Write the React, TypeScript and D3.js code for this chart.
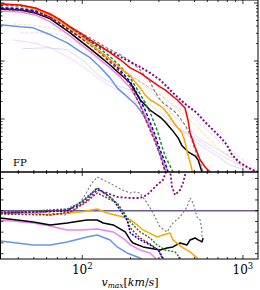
import * as d3 from "d3";

// ---- top panel: cumulative counts n(>vmax) ----
const redV = [31.0, 41.2, 51.1, 63.3, 73.0, 84.2, 97.2, 112, 129, 149, 172, 199, 229, 264, 305, 328, 389, 436, 455, 469, 503, 526, 541, 581, 624, 642];
const redN = [0.961, 0.924, 0.821, 0.648, 0.512, 0.388, 0.306, 0.232, 0.183, 0.139, 0.106, 0.076, 0.0624, 0.0473, 0.0358, 0.0318, 0.0215, 0.0155, 0.00962, 0.00576, 0.00331, 0.00241, 0.00198, 0.00149, 0.00122, 0.00104];

const orangeV = [31.0, 41.2, 51.1, 63.3, 73.0, 84.2, 97.2, 112, 129, 149, 172, 199, 213, 229, 246, 264, 292, 318, 342, 362, 389, 418, 436, 449, 469, 482, 496];
const orangeN = [0.961, 0.924, 0.789, 0.599, 0.473, 0.358, 0.272, 0.198, 0.145, 0.106, 0.076, 0.0554, 0.0437, 0.0345, 0.0261, 0.0215, 0.0183, 0.0155, 0.0122, 0.00962, 0.0073, 0.00576, 0.00404, 0.00272, 0.00182, 0.00132, 0.00104];

const greenV = [31.0, 41.2, 51.1, 63.3, 73.0, 84.2, 97.2, 112, 129, 149, 172, 199, 213, 229, 246, 264, 276, 292, 305, 318, 332, 352, 367, 378];
const greenN = [0.924, 0.888, 0.821, 0.623, 0.492, 0.373, 0.283, 0.215, 0.163, 0.119, 0.0822, 0.0512, 0.0373, 0.0272, 0.0191, 0.0132, 0.00962, 0.00649, 0.00437, 0.00294, 0.00215, 0.00155, 0.00122, 0.00104];

const blueV = [31.0, 41.2, 51.1, 63.3, 73.0, 84.2, 97.2, 112, 129, 149, 172, 199, 213, 229, 246, 264, 284, 297, 314, 328, 342, 352];
const blueN = [0.821, 0.789, 0.729, 0.576, 0.454, 0.345, 0.261, 0.198, 0.145, 0.106, 0.0702, 0.0437, 0.0318, 0.0215, 0.0143, 0.00889, 0.00532, 0.00358, 0.00241, 0.00176, 0.00122, 0.00104];

const brownV = [31.0, 41.2, 51.1, 63.3, 73.0, 84.2, 97.2, 112, 129, 149, 172, 199, 213, 229, 246, 264, 284, 305, 318, 328, 337];
const brownN = [0.821, 0.789, 0.701, 0.553, 0.437, 0.331, 0.251, 0.191, 0.139, 0.0962, 0.0649, 0.0388, 0.0261, 0.0176, 0.0104, 0.00649, 0.00404, 0.00241, 0.00162, 0.00122, 0.00104];

const purpleV = [31.0, 41.2, 51.1, 63.3, 73.0, 84.2, 97.2, 112, 129, 149, 172, 199, 229, 264, 305, 342, 378, 436, 518, 581, 624, 720, 795, 855, 958, 1059, 1187, 1240];
const purpleN = [0.789, 0.759, 0.701, 0.576, 0.473, 0.373, 0.283, 0.223, 0.176, 0.145, 0.119, 0.0962, 0.079, 0.0624, 0.0473, 0.0345, 0.0261, 0.0183, 0.0127, 0.00889, 0.0073, 0.00492, 0.00358, 0.00241, 0.00176, 0.00149, 0.00127, 0.00122];

const grayV = [31.0, 41.2, 51.1, 63.3, 73.0, 84.2, 97.2, 112, 129, 149, 172, 199, 229, 264, 284, 305, 318, 352, 378, 406, 436, 469, 503, 541, 565];
const grayN = [0.854, 0.821, 0.759, 0.623, 0.512, 0.388, 0.306, 0.251, 0.198, 0.157, 0.129, 0.1, 0.0702, 0.0437, 0.0294, 0.0215, 0.0191, 0.0155, 0.0132, 0.0104, 0.0079, 0.00532, 0.00294, 0.00182, 0.00122];

const blackV = [31.0, 41.2, 51.1, 63.3, 73.0, 84.2, 97.2, 112, 129, 149, 172, 199, 213, 229, 264, 305, 328, 362, 395, 418, 455, 503, 526, 541, 556];
const blackN = [0.789, 0.759, 0.674, 0.532, 0.404, 0.306, 0.223, 0.163, 0.119, 0.0853, 0.0597, 0.0418, 0.0304, 0.0215, 0.0143, 0.0108, 0.00889, 0.00649, 0.00473, 0.00345, 0.00272, 0.00232, 0.00198, 0.00155, 0.00122];

const violetV = [31.0, 41.2, 51.1, 63.3, 73.0, 84.2, 97.2, 112, 129, 149, 172, 199, 213, 229, 246, 264, 284, 297, 314, 328, 342];
const violetN = [0.729, 0.701, 0.623, 0.473, 0.358, 0.272, 0.198, 0.145, 0.106, 0.076, 0.0532, 0.0345, 0.0251, 0.0176, 0.0117, 0.0076, 0.00473, 0.00318, 0.00215, 0.00155, 0.00122];

const cornV = [31.0, 41.2, 49.6, 63.3, 80.7, 97.2, 112, 129, 149, 165, 185, 199, 213, 229, 246, 264, 284, 297, 314, 328, 337];
const cornN = [0.42, 0.388, 0.373, 0.283, 0.206, 0.145, 0.114, 0.079, 0.0512, 0.0345, 0.0261, 0.0215, 0.0183, 0.0143, 0.0104, 0.00702, 0.00437, 0.00294, 0.00198, 0.00132, 0.00104];

// faint low-resolution runs
const fOrangeV = [37.3, 47.5, 63.3, 78.4, 97.2, 129, 199, 305, 469, 720, 1105];
const fOrangeN = [0.437, 0.42, 0.373, 0.318, 0.232, 0.129, 0.0576, 0.0261, 0.00962, 0.00294, 0.00143];
const fVioletV = [41.2, 58.9, 73.0, 97.2, 129, 199, 305, 489, 624, 830, 1105, 1240];
const fVioletN = [0.306, 0.306, 0.283, 0.191, 0.119, 0.0576, 0.0261, 0.0104, 0.00576, 0.00294, 0.00162, 0.00132];
const fPinkV = [36.7, 49.6, 63.3, 80.7, 104, 129, 172, 229, 305, 469, 720, 1029, 1187];
const fPinkN = [0.232, 0.206, 0.169, 0.119, 0.076, 0.0473, 0.0294, 0.0176, 0.0104, 0.00532, 0.00241, 0.00143, 0.00122];
const fBlueV = [42.4, 60.6, 80.7, 104, 129, 160, 199, 264, 378, 541, 830, 1105];
const fBlueN = [0.163, 0.169, 0.157, 0.0962, 0.0532, 0.0388, 0.0318, 0.0176, 0.0079, 0.00358, 0.00162, 0.00122];
const fGrayV = [172, 229, 305, 362, 449, 541, 650, 830, 1000, 1240];
const fGrayN = [0.076, 0.0437, 0.0215, 0.0122, 0.0073, 0.0044, 0.0034, 0.0022, 0.00155, 0.00127];

// ---- bottom panel: ratios ----
const rGrayV = [31.0, 54.8, 78.4, 90.5, 104, 115, 124, 135, 156, 177, 199, 213, 229, 253, 276, 305, 337, 367, 406, 449, 469, 489, 518, 541, 556, 556];
const rGray = [0.976, 0.976, 0.92, 1.013, 1.292, 1.515, 1.627, 1.571, 1.478, 1.385, 1.329, 1.348, 1.329, 1.143, 0.957, 0.697, 0.604, 0.771, 0.883, 1.069, 1.236, 1.143, 0.883, 0.827, 0.641, 0.511];
const rPurpleV = [31.0, 49.6, 80.7, 97.2, 107, 124, 143, 165, 199, 229, 253, 292, 318, 332, 342, 352, 362, 378, 406, 424, 436, 449];
const rPurple = [0.957, 0.976, 1.013, 1.106, 1.199, 1.385, 1.329, 1.255, 1.236, 1.236, 1.292, 1.478, 1.571, 1.72, 1.832, 1.757, 1.441, 1.292, 1.385, 1.515, 1.664, 1.85];
const rGreenV = [31.0, 49.6, 80.7, 97.2, 107, 124, 149, 165, 180, 199, 229, 264, 292, 328, 378, 406, 418];
const rGreen = [0.976, 0.994, 1.032, 1.143, 1.255, 1.422, 1.255, 1.125, 0.976, 0.79, 0.604, 0.492, 0.362, 0.269, 0.232, 0.12, -0.01];
const rBlueV = [31.0, 49.6, 80.7, 107, 124, 139, 156, 172, 190, 199, 229, 264, 297, 318, 328];
const rBlue = [0.957, 0.976, 0.994, 1.236, 1.422, 1.311, 1.199, 1.013, 0.827, 0.585, 0.455, 0.362, 0.269, 0.12, -0.01];
const rBrownV = [31.0, 63.3, 84.2, 104, 124, 143, 165, 185, 199, 229, 264, 297, 314, 318];
const rBrown = [0.938, 0.92, 0.976, 1.143, 1.329, 1.236, 1.143, 0.92, 0.678, 0.492, 0.38, 0.269, 0.12, -0.01];
const rOrangeV = [31.0, 49.6, 63.3, 80.7, 97.2, 124, 143, 180, 199, 220, 239, 292, 318, 352, 367, 424, 469, 518, 533];
const rOrange = [0.957, 0.957, 0.92, 0.957, 0.976, 1.032, 0.957, 0.883, 0.827, 0.734, 0.641, 0.511, 0.548, 0.585, 0.455, 0.306, 0.232, 0.12, -0.01];
const rBlackV = [31.0, 49.6, 63.3, 80.7, 97.2, 107, 124, 135, 156, 185, 199, 207, 239, 305, 337, 367, 406, 449, 469, 503, 526, 556, 565];
const rBlack = [0.864, 0.79, 0.734, 0.771, 0.808, 0.827, 0.827, 0.771, 0.734, 0.604, 0.455, 0.399, 0.325, 0.269, 0.306, 0.325, 0.399, 0.362, 0.455, 0.492, 0.455, 0.418, 0.492];
const rVioletV = [31.0, 49.6, 63.3, 80.7, 97.2, 124, 156, 185, 199, 229, 264, 284, 292];
const rViolet = [0.827, 0.771, 0.715, 0.641, 0.641, 0.66, 0.604, 0.455, 0.362, 0.269, 0.213, 0.12, 0.046];
const rCornV = [31.0, 49.6, 63.3, 80.7, 107, 124, 149, 165, 190, 229, 246];
const rCorn = [0.436, 0.362, 0.362, 0.418, 0.511, 0.548, 0.455, 0.325, 0.213, 0.12, 0.027];

const xMajor = [100, 1000];
const xTickLabels = ["2", "3"];

type S = { v: number[]; y: number[]; c: string; w: number; d?: string; o?: number };

const topLines: S[] = [
  { v: fGrayV, y: fGrayN, c: "#a0a0a0", w: 1, o: 0.35 },
  { v: fBlueV, y: fBlueN, c: "#6495ed", w: 1, o: 0.3 },
  { v: fPinkV, y: fPinkN, c: "#ee82ee", w: 1, o: 0.35 },
  { v: fVioletV, y: fVioletN, c: "#ee82ee", w: 1, d: "3,2", o: 0.4 },
  { v: fOrangeV, y: fOrangeN, c: "#ffa500", w: 1, d: "3,2", o: 0.4 },
  { v: cornV, y: cornN, c: "#6495ed", w: 1.5 },
  { v: violetV, y: violetN, c: "#ee82ee", w: 1.5 },
  { v: blackV, y: blackN, c: "#000000", w: 1.5 },
  { v: grayV, y: grayN, c: "#808080", w: 1.2, d: "3,2" },
  { v: brownV, y: brownN, c: "#a52a2a", w: 1.5, d: "3,2" },
  { v: blueV, y: blueN, c: "#0000cd", w: 1.5, d: "3,2" },
  { v: greenV, y: greenN, c: "#228b22", w: 1.5, d: "3,2" },
  { v: purpleV, y: purpleN, c: "#8b008b", w: 2, d: "2,2" },
  { v: orangeV, y: orangeN, c: "#ffa500", w: 1.5 },
  { v: redV, y: redN, c: "#ff0000", w: 1.5 },
];

const botLines: S[] = [
  { v: rCornV, y: rCorn, c: "#6495ed", w: 1.5 },
  { v: rVioletV, y: rViolet, c: "#ee82ee", w: 1.5 },
  { v: rBlackV, y: rBlack, c: "#000000", w: 1.5 },
  { v: rOrangeV, y: rOrange, c: "#ffa500", w: 1.5 },
  { v: rGrayV, y: rGray, c: "#808080", w: 1.2, d: "2,2" },
  { v: rBrownV, y: rBrown, c: "#a52a2a", w: 1.5, d: "2,1.5" },
  { v: rBlueV, y: rBlue, c: "#0000cd", w: 1.5, d: "2,1.5" },
  { v: rGreenV, y: rGreen, c: "#228b22", w: 1.5, d: "2,1.5" },
  { v: rPurpleV, y: rPurple, c: "#8b008b", w: 1.8, d: "2,2" },
];

export default function App() {
  const L = 0.5, R = 258, T = 0, M = 172, B = 259;
  const x = d3.scaleLog().domain([31, 1241]).range([L, R]);
  const yT = d3.scaleLog().domain([0.00122, 1.127]).range([M, T]);
  const yB = d3.scaleLinear().domain([0.1, 1.72]).range([B, M]);
  const serif = "'DejaVu Serif', 'Liberation Serif', serif";

  const path = (s: S, y: (n: number) => number) =>
    d3.line<number>().x((_, i) => x(s.v[i])).y((n) => y(n))(s.y) ?? "";

  const xt = x.ticks();
  const yTt = yT.ticks();
  const yBt = d3.range(0.2, 1.61, 0.2);
  const isMajor = (t: number) => Math.abs(Math.log10(t) - Math.round(Math.log10(t))) < 1e-6;

  const xTicks = (y0: number, y1: number) =>
    xt.map((t, i) => {
      const len = isMajor(t) ? 4 : 2;
      return (
        <g key={i}>
          <line x1={x(t)} x2={x(t)} y1={y0} y2={y0 + len} stroke="#000" strokeWidth={0.8} />
          <line x1={x(t)} x2={x(t)} y1={y1} y2={y1 - len} stroke="#000" strokeWidth={0.8} />
        </g>
      );
    });

  return (
    <>
      <style>{"body{margin:0}"}</style>
      <svg width={260} height={290} style={{ display: "block", background: "#fff" }}>
        <defs>
          <clipPath id="cTop"><rect x={L} y={T} width={R - L} height={M - T} /></clipPath>
          <clipPath id="cBot"><rect x={L} y={M} width={R - L} height={B - M} /></clipPath>
        </defs>

        <g clipPath="url(#cTop)">
          {topLines.map((s, i) => (
            <path key={i} d={path(s, yT)} fill="none" stroke={s.c} strokeWidth={s.w}
              strokeDasharray={s.d} opacity={s.o ?? 1} strokeLinejoin="round" />
          ))}
        </g>
        <g clipPath="url(#cBot)">
          <line x1={L} x2={R} y1={yB(1)} y2={yB(1)} stroke="#6b5b9b" strokeWidth={1.5} />
          {botLines.map((s, i) => (
            <path key={i} d={path(s, yB)} fill="none" stroke={s.c} strokeWidth={s.w}
              strokeDasharray={s.d} opacity={s.o ?? 1} strokeLinejoin="round" />
          ))}
        </g>

        {/* ticks */}
        {xTicks(T, M)}
        {xTicks(M, B)}
        {yTt.map((t, i) => {
          const len = isMajor(t) ? 4 : 2;
          return (
            <g key={"yt" + i}>
              <line x1={L} x2={L + len} y1={yT(t)} y2={yT(t)} stroke="#000" strokeWidth={0.8} />
              <line x1={R} x2={R - len} y1={yT(t)} y2={yT(t)} stroke="#000" strokeWidth={0.8} />
            </g>
          );
        })}
        {yBt.map((t, i) => (
          <g key={"yb" + i}>
            <line x1={L} x2={L + 3} y1={yB(t)} y2={yB(t)} stroke="#000" strokeWidth={0.8} />
            <line x1={R} x2={R - 3} y1={yB(t)} y2={yB(t)} stroke="#000" strokeWidth={0.8} />
          </g>
        ))}

        {/* frames */}
        <rect x={L} y={T} width={R - L} height={M - T} fill="none" stroke="#000" strokeWidth={1} />
        <rect x={L} y={M} width={R - L} height={B - M} fill="none" stroke="#000" strokeWidth={1} />

        <text x={13} y={166} fontFamily={serif} fontSize={10}>FP</text>

        {xMajor.map((t, i) => (
          <text key={i} x={x(t)} y={274} fontFamily={serif} fontSize={12} textAnchor="middle">
            10<tspan dy={-5} fontSize={8.5}>{xTickLabels[i]}</tspan>
          </text>
        ))}
        <text x={130} y={286} fontFamily={serif} fontSize={11} textAnchor="middle">
          <tspan fontStyle="italic">v</tspan>
          <tspan fontStyle="italic" fontSize={7.5} dy={2}>max</tspan>
          <tspan dy={-2}>[</tspan>
          <tspan fontStyle="italic">km</tspan>
          <tspan>/</tspan>
          <tspan fontStyle="italic">s</tspan>
          <tspan>]</tspan>
        </text>
      </svg>
    </>
  );
}
